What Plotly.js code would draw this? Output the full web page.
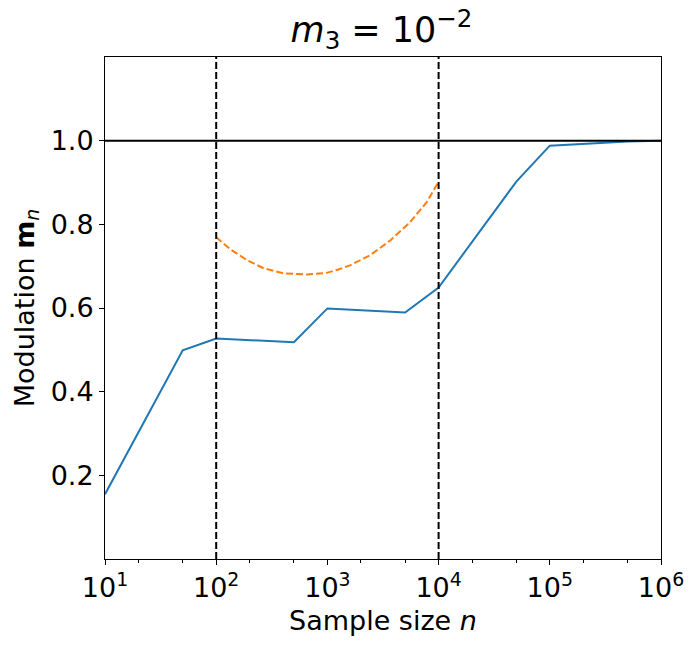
<!DOCTYPE html>
<html>
<head>
<meta charset="utf-8">
<script src="https://cdn.plot.ly/plotly-3.0.1.min.js"></script>
<style>html,body{margin:0;padding:0;background:#fff;}</style>
</head>
<body>
<div id="chart" style="width:700px;height:650px;"></div>
<script>
// Blue solid series
var blueN = [10, 50, 100, 500, 1000, 5000, 10000, 50000, 100000, 500000, 1000000];
var blueM = [0.155, 0.499, 0.527, 0.518, 0.599, 0.589, 0.649, 0.902, 0.988, 0.998, 1.0];
// Orange dashed series
var orangeN = [100, 133, 188, 266, 402, 650, 984, 1253, 1596, 2415, 3656, 5534, 7816, 10000];
var orangeM = [0.769, 0.741, 0.715, 0.695, 0.683, 0.680, 0.684, 0.692, 0.702, 0.726, 0.761, 0.805, 0.853, 0.902];
// Reference lines
var vLines = [100, 10000];
var hLine = 1.0;
// Ticks
var xTickVals = [10, 100, 1000, 10000, 100000, 1000000];
var xTickText = ['10<sup>1</sup>', '10<sup>2</sup>', '10<sup>3</sup>', '10<sup>4</sup>', '10<sup>5</sup>', '10<sup>6</sup>'];
var yTickVals = [0.2, 0.4, 0.6, 0.8, 1.0];
var yTickText = ['0.2', '0.4', '0.6', '0.8', '1.0'];

var traces = [
  {x: blueN, y: blueM, mode: 'lines', line: {color: '#1f77b4', width: 2}, hoverinfo: 'skip'},
  {x: orangeN, y: orangeM, mode: 'lines', line: {color: '#ff7f0e', width: 2, dash: '7px,3px'}, hoverinfo: 'skip'}
];

var shapes = [
  {type: 'line', xref: 'paper', x0: 0, x1: 1, yref: 'y', y0: hLine, y1: hLine, line: {color: 'black', width: 2}}
];
vLines.forEach(function(v){
  shapes.push({type: 'line', xref: 'x', x0: v, x1: v, yref: 'paper', y0: 0, y1: 1, line: {color: 'black', width: 2, dash: '7px,3px'}});
});

var layout = {
  width: 700, height: 650,
  margin: {l: 105, r: 39, t: 57, b: 91},
  paper_bgcolor: 'white', plot_bgcolor: 'white',
  showlegend: false,
  font: {family: 'DejaVu Sans', size: 27, color: 'black'},
  title: {text: '<i>m</i><sub>3</sub> = 10<sup>−2</sup>', x: 0.545, xanchor: 'center', y: 0.955, yanchor: 'middle', font: {size: 35, family: 'DejaVu Sans'}},
  xaxis: {
    type: 'log', range: [1, 6],
    tickvals: xTickVals, ticktext: xTickText,
    ticks: 'outside', ticklen: 5, tickwidth: 1, tickcolor: 'black',
    minor: {ticks: 'outside', ticklen: 3, tickwidth: 1, tickcolor: 'black', showgrid: false},
    showgrid: false, zeroline: false,
    showline: true, linecolor: 'black', linewidth: 1, mirror: true,
    tickfont: {size: 27},
    title: {text: 'Sample size <i>n</i>', font: {size: 27}, standoff: 8}
  },
  yaxis: {
    range: [0, 1.2],
    tickvals: yTickVals, ticktext: yTickText,
    ticks: 'outside', ticklen: 5, tickwidth: 1, tickcolor: 'black',
    showgrid: false, zeroline: false,
    showline: true, linecolor: 'black', linewidth: 1, mirror: true,
    tickfont: {size: 27},
    title: {text: 'Modulation <b>m</b><sub><i>n</i></sub>', font: {size: 27}, standoff: 8}
  },
  shapes: shapes
};

Plotly.newPlot('chart', traces, layout, {displayModeBar: false, staticPlot: true});
</script>
</body>
</html>
